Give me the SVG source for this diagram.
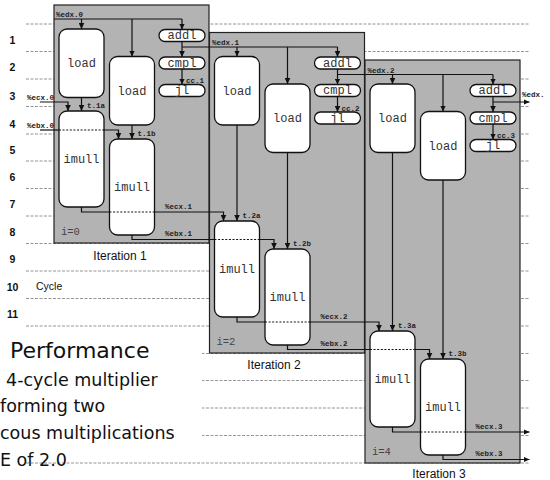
<svg xmlns="http://www.w3.org/2000/svg" width="550" height="480" viewBox="0 0 550 480">
<style>
.grid{stroke:#7a7a7a;stroke-width:0.8;stroke-dasharray:3 1.5;fill:none}
.box{fill:#b3b3b3;stroke:#222;stroke-width:1.2}
.unit{fill:#fff;stroke:#111;stroke-width:1.3}
.ut{font-family:"Liberation Mono",monospace;font-size:12px;fill:#333;text-anchor:middle}
.lbl{font-family:"Liberation Mono",monospace;font-size:7.5px;font-weight:bold;fill:#222}
.cn{stroke:#111;stroke-width:1.2;fill:none}
.ar{marker-end:url(#ah)}
.dsh{stroke:#111;stroke-width:1;stroke-dasharray:2 1.6;fill:none}
.num{font-family:"Liberation Sans",Arial,sans-serif;font-size:10.5px;font-weight:bold;text-anchor:middle;fill:#111}
.it{font-family:"Liberation Sans",Arial,sans-serif;font-size:12px;text-anchor:middle;fill:#111}
.iv{font-family:"Liberation Mono",monospace;font-size:10.5px;fill:#444}
.perf{font-family:"DejaVu Sans",sans-serif;fill:#111}
</style>
<defs>
<marker id="ah" viewBox="0 0 6 6" refX="6" refY="3" markerWidth="6" markerHeight="6" markerUnits="userSpaceOnUse" orient="auto"><path d="M0,0.2 L6,3 L0,5.8 z" fill="#111"/></marker>
</defs>
<rect width="550" height="480" fill="#fff"/>
<g id="grid">
<path class="grid" d="M26,24H529M26,51.5H529M26,79H529M26,106.5H529M26,134H529M26,161H529M26,188.5H529M26,216H529M26,243.5H529M26,271H529M26,298.5H529M26,326H529M26,353.5H529M26,380.5H529M26,408H529M26,435.5H529M26,463H529"/>
</g>
<g id="cycles">
<text class="num" x="12.5" y="43.5">1</text>
<text class="num" x="12.5" y="71">2</text>
<text class="num" x="12.5" y="100">3</text>
<text class="num" x="12.5" y="128">4</text>
<text class="num" x="12.5" y="153.5">5</text>
<text class="num" x="12.5" y="181">6</text>
<text class="num" x="12.5" y="208">7</text>
<text class="num" x="12.5" y="235.5">8</text>
<text class="num" x="12.5" y="263">9</text>
<text class="num" x="12.5" y="290.5">10</text>
<text class="num" x="12.5" y="318">11</text>
<text x="36" y="289.5" font-family="Liberation Sans, Arial, sans-serif" font-size="10.5" fill="#111">Cycle</text>
</g>
<g id="perf">
<rect x="0" y="336" width="202" height="112" fill="#fff"/>
<text class="perf" x="10" y="358" font-size="22">Performance</text>
<text class="perf" x="6" y="386" font-size="17.5">4-cycle multiplier</text>
<text class="perf" x="0" y="412" font-size="17.5">forming two</text>
<text class="perf" x="0" y="439" font-size="17.5">cous multiplications</text>
<text class="perf" x="0" y="466" font-size="17.5">E of 2.0</text>
</g>
<g id="iter1">
<rect class="box" x="54" y="5" width="155" height="238"/>
<text class="iv" x="61" y="235">i=0</text>
<text class="it" x="120" y="260">Iteration 1</text>
</g>
<g id="i1-load1"><rect class="unit" x="59" y="29" width="45" height="68.5" rx="8"/><text class="ut" x="81.5" y="67">load</text></g>
<g id="i1-load2"><rect class="unit" x="109.5" y="56.5" width="45" height="68.5" rx="8"/><text class="ut" x="132" y="94.5">load</text></g>
<g id="i1-addl"><rect class="unit" x="159" y="29.5" width="46" height="12" rx="6"/><text class="ut" x="182" y="39">addl</text></g>
<g id="i1-cmpl"><rect class="unit" x="159" y="57" width="46" height="12" rx="6"/><text class="ut" x="182" y="66.5">cmpl</text></g>
<g id="i1-jl"><rect class="unit" x="159" y="84.5" width="46" height="12" rx="6"/><text class="ut" x="182" y="94">jl</text></g>
<g id="i1-imull1"><rect class="unit" x="59" y="111" width="45" height="96" rx="8"/><text class="ut" x="81.5" y="163">imull</text></g>
<g id="i1-imull2"><rect class="unit" x="109.5" y="139" width="45" height="96" rx="8"/><text class="ut" x="132" y="191">imull</text></g>
<g id="iter2">
<rect class="box" x="209.5" y="32.5" width="155" height="320.5"/>
<text class="iv" x="216.5" y="345">i=2</text>
<text class="it" x="274" y="369">Iteration 2</text>
</g>
<g id="i2-load1"><rect class="unit" x="214.5" y="56.5" width="45" height="68.5" rx="8"/><text class="ut" x="237" y="94.5">load</text></g>
<g id="i2-load2"><rect class="unit" x="265" y="84" width="45" height="68.5" rx="8"/><text class="ut" x="287.5" y="122">load</text></g>
<g id="i2-addl"><rect class="unit" x="314.5" y="57" width="46" height="12" rx="6"/><text class="ut" x="337.5" y="66.5">addl</text></g>
<g id="i2-cmpl"><rect class="unit" x="314.5" y="84.5" width="46" height="12" rx="6"/><text class="ut" x="337.5" y="94">cmpl</text></g>
<g id="i2-jl"><rect class="unit" x="314.5" y="112" width="46" height="12" rx="6"/><text class="ut" x="337.5" y="121.5">jl</text></g>
<g id="i2-imull1"><rect class="unit" x="214.5" y="221" width="45" height="96" rx="8"/><text class="ut" x="237" y="273">imull</text></g>
<g id="i2-imull2"><rect class="unit" x="265" y="249" width="45" height="96" rx="8"/><text class="ut" x="287.5" y="301">imull</text></g>
<g id="iter3">
<rect class="box" x="365" y="60" width="155" height="403"/>
<text class="iv" x="372" y="455">i=4</text>
<text class="it" x="439" y="478">Iteration 3</text>
</g>
<g id="i3-load1"><rect class="unit" x="370" y="84" width="45" height="68.5" rx="8"/><text class="ut" x="392.5" y="122">load</text></g>
<g id="i3-load2"><rect class="unit" x="420.5" y="111.5" width="45" height="68.5" rx="8"/><text class="ut" x="443" y="149.5">load</text></g>
<g id="i3-addl"><rect class="unit" x="470" y="84.5" width="46" height="12" rx="6"/><text class="ut" x="493" y="94">addl</text></g>
<g id="i3-cmpl"><rect class="unit" x="470" y="112" width="46" height="12" rx="6"/><text class="ut" x="493" y="121.5">cmpl</text></g>
<g id="i3-jl"><rect class="unit" x="470" y="139.5" width="46" height="12" rx="6"/><text class="ut" x="493" y="149">jl</text></g>
<g id="i3-imull1"><rect class="unit" x="370" y="331" width="45" height="96" rx="8"/><text class="ut" x="392.5" y="383">imull</text></g>
<g id="i3-imull2"><rect class="unit" x="420.5" y="359" width="45" height="96" rx="8"/><text class="ut" x="443" y="411">imull</text></g>
<g id="connectors">
<g id="edx0"><path class="cn" d="M54,19H182"/><path class="cn ar" d="M81.5,19V29"/><path class="cn ar" d="M132,19V56.5"/><path class="cn ar" d="M182,19V29.5"/><text class="lbl" x="56" y="16.5">%edx.0</text></g>
<path class="cn ar" d="M182,41.5V57"/>
<path class="cn ar" d="M182,69V84.5"/><text class="lbl" x="186" y="83">cc.1</text>
<g id="edx1"><path class="cn" d="M182,47H337.5"/><path class="cn ar" d="M237,47V56.5"/><path class="cn ar" d="M287.5,47V84"/><path class="cn ar" d="M337.5,47V57"/><text class="lbl" x="212" y="45">%edx.1</text></g>
<path class="cn ar" d="M337.5,69V84.5"/>
<path class="cn ar" d="M337.5,96.5V112"/><text class="lbl" x="341.5" y="110.5">cc.2</text>
<g id="edx2"><path class="cn" d="M337.5,74.5H493"/><path class="cn ar" d="M392.5,74.5V84"/><path class="cn ar" d="M443,74.5V111.5"/><path class="cn ar" d="M493,74.5V84.5"/><text class="lbl" x="367.5" y="72.5">%edx.2</text></g>
<path class="cn ar" d="M493,96.5V112"/>
<path class="cn ar" d="M493,124V139.5"/><text class="lbl" x="497" y="138">cc.3</text>
<g id="edx3"><path class="cn ar" d="M493,102H529.5"/><text class="lbl" x="522" y="97">%edx.</text></g>
<g id="ecx0"><path class="cn ar" d="M40,102H68V111"/><text class="lbl" x="27" y="100">%ecx.0</text></g>
<g id="t1a"><path class="cn ar" d="M81.5,97.5V111"/><text class="lbl" x="87" y="108">t.1a</text></g>
<g id="ebx0"><path class="cn" d="M40,130H59"/><path class="dsh" d="M59,130H104"/><path class="cn ar" d="M104,130H118.5V139"/><text class="lbl" x="27" y="127.5">%ebx.0</text></g>
<g id="t1b"><path class="cn ar" d="M132,125V139"/><text class="lbl" x="137.5" y="136">t.1b</text></g>
<g id="ecx1"><path class="cn" d="M81.5,207V212H109.5"/><path class="dsh" d="M109.5,212H154.5"/><path class="cn ar" d="M154.5,212H223.5V221"/><text class="lbl" x="165" y="208.5">%ecx.1</text></g>
<g id="t2a"><path class="cn ar" d="M237,125V221"/><text class="lbl" x="242.5" y="218">t.2a</text></g>
<g id="ebx1"><path class="cn" d="M132,235V239.5H214.5"/><path class="dsh" d="M214.5,239.5H259.5"/><path class="cn ar" d="M259.5,239.5H274V249"/><text class="lbl" x="165" y="236">%ebx.1</text></g>
<g id="t2b"><path class="cn ar" d="M287.5,152.5V249"/><text class="lbl" x="293" y="245.5">t.2b</text></g>
<g id="ecx2"><path class="cn" d="M237,317V322H265"/><path class="dsh" d="M265,322H310"/><path class="cn ar" d="M310,322H379V331"/><text class="lbl" x="320.5" y="318.5">%ecx.2</text></g>
<g id="t3a"><path class="cn ar" d="M392.5,152.5V331"/><text class="lbl" x="398" y="328">t.3a</text></g>
<g id="ebx2"><path class="cn" d="M287.5,345V349.5H370"/><path class="dsh" d="M370,349.5H415"/><path class="cn ar" d="M415,349.5H429.5V359"/><text class="lbl" x="320.5" y="346">%ebx.2</text></g>
<g id="t3b"><path class="cn ar" d="M443,180V359"/><text class="lbl" x="448.5" y="355.5">t.3b</text></g>
<g id="ecx3"><path class="cn" d="M392.5,427V432H420.5"/><path class="dsh" d="M420.5,432H465.5"/><path class="cn ar" d="M465.5,432H529.5"/><text class="lbl" x="475.5" y="428.5">%ecx.3</text></g>
<g id="ebx3"><path class="cn ar" d="M443,455V459.5H529.5"/><text class="lbl" x="475.5" y="456">%ebx.3</text></g>
</g>
</svg>
